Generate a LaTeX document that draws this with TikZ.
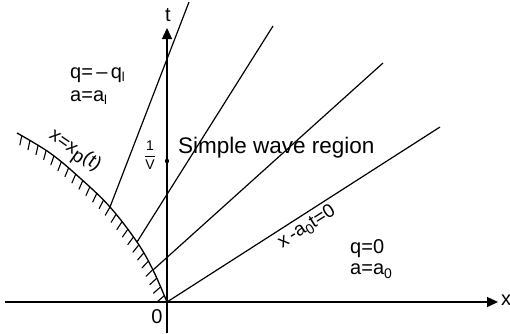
\documentclass[tikz,border=0pt]{standalone}
\usepackage{fontspec}
\setmainfont{Liberation Sans}
\usetikzlibrary{arrows.meta,decorations.markings}
\begin{document}
\begin{tikzpicture}[x=1pt,y=-1pt,
  axis/.style={line width=1.3pt,-{Triangle[length=11pt,width=10pt]}},
  ray/.style={line width=1.2pt},
  lbl/.style={font=\fontsize{20}{24}\selectfont,inner sep=0pt},
  hatched/.style={line width=1.3pt,postaction={decorate},
    decoration={markings,mark=between positions 0.03 and 0.99 step 9.5pt with {\draw[line width=1.1pt,line cap=round] (0pt,0pt) -- (-3pt,9pt);}}}]
\useasboundingbox (0,0) rectangle (510,333);
% coordinates
\coordinate (O) at (167,302);
\coordinate (xl) at (5,302);
\coordinate (xr) at (498,302);
\coordinate (tb) at (167,333);
\coordinate (tt) at (167,28);
\coordinate (p2) at (153,270);
\coordinate (p3) at (137,242);
\coordinate (p4) at (110,207);
\coordinate (e1) at (440,127);
\coordinate (e2) at (383,63);
\coordinate (e3) at (273,26);
\coordinate (e4) at (189,2);
% axes
\draw[axis] (xl) -- (xr);
\draw[axis] (tb) -- (tt);
% piston path
\draw[hatched] plot[smooth,tension=0.6] coordinates {(167,302) (153,270) (137,242) (110,207) (80,178) (50,153) (17,133)};
% characteristics
\draw[ray] (O) -- (e1);
\draw[ray] (p2) -- (e2);
\draw[ray] (p3) -- (e3);
\draw[ray] (p4) -- (e4);
% dot on t-axis
\fill (167,161) circle (2.2pt);
% labels
\node[lbl] (tlab) at (168,15) {t};
\node[lbl] (xlab) at (506,300) {x};
\node[lbl] (zero) at (157,317) {0};
\node[lbl,anchor=base west] (ql) at (70,78) {q=\,–\,q\raisebox{-0.35ex}{\fontsize{13}{14}\selectfont l}};
\node[lbl,anchor=base west] (al) at (70,101) {a=a\raisebox{-0.35ex}{\fontsize{13}{14}\selectfont l}};
\node[lbl,anchor=base west] (q0) at (350,253) {q=0};
\node[lbl,anchor=base west] (a0) at (350,274) {a=a\raisebox{-0.4ex}{\fontsize{14}{15}\selectfont 0}};
\node[inner sep=0pt,anchor=base west,font=\fontsize{22.5}{26}\selectfont] (swr) at (178,153) {Simple wave region};
\node[inner sep=0pt,font=\fontsize{14}{15}\selectfont] (frac) at (150,155) {$\displaystyle\frac{\mbox{1}}{\mbox{V}}$};
\node[lbl,rotate=-35,font=\fontsize{19}{22}\selectfont] (xp) at (74,152) {x=x\raisebox{-0.4ex}{p}(t)};
\node[lbl,rotate=32.6,font=\fontsize{19}{22}\selectfont] (char) at (307,227) {x\,-a\raisebox{-0.4ex}{\fontsize{14}{15}\selectfont 0}t=0};
\end{tikzpicture}
\end{document}
